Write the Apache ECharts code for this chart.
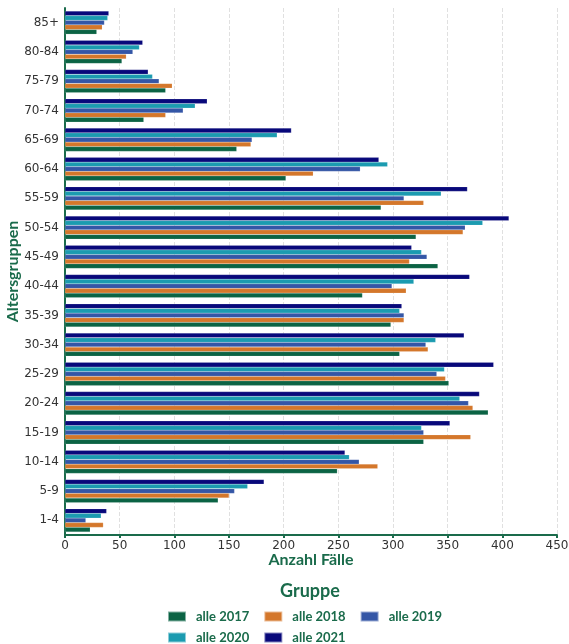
<!DOCTYPE html>
<html>
<head>
<meta charset="utf-8">
<script src="https://cdn.jsdelivr.net/npm/echarts@6/dist/echarts.min.js"></script>
<style>html,body{margin:0;padding:0;background:#fff}#c{width:569px;height:644px}</style>
</head>
<body>
<div id="c"></div>
<script>
const categories = ['1-4','5-9','10-14','15-19','20-24','25-29','30-34','35-39','40-44','45-49','50-54','55-59','60-64','65-69','70-74','75-79','80-84','85+'];
const seriesNames = ['alle 2017','alle 2018','alle 2019','alle 2020','alle 2021'];
const alle2017 = [23,140,249,328,387,351,306,298,272,341,321,289,202,157,72,92,52,29];
const alle2018 = [35,150,286,371,373,348,332,310,312,315,364,328,227,170,92,98,56,34];
const alle2019 = [19,155,269,328,369,340,330,310,299,331,366,310,270,171,108,86,62,36];
const alle2020 = [33,167,260,326,361,347,339,306,319,326,382,344,295,194,119,80,68,39];
const alle2021 = [38,182,256,352,379,392,365,308,370,317,406,368,287,207,130,76,71,40];
const xTicks = [0,50,100,150,200,250,300,350,400,450];
const colors = ['#0b6344','#d4772b','#3456a6','#1b9bb0','#08087a'];

const dataSets = [alle2017, alle2018, alle2019, alle2020, alle2021];
const green = '#1a6b4b';
const chart = echarts.init(document.getElementById('c'));
const legendText = {fontFamily: 'Lato', fontWeight: 'bold', fontSize: 13, color: green, padding: [0, 0, 0, 5]};
// series listed top-to-bottom within a group (2021 on top, 2017 at bottom)
const order = [4, 3, 2, 1, 0];
chart.setOption({
  animation: false,
  title: {
    text: 'Gruppe', left: 310, top: 582, textAlign: 'center', padding: 0,
    textStyle: {fontFamily: 'Lato', fontWeight: 'bold', fontSize: 18, color: green}
  },
  legend: [
    {data: seriesNames.slice(0,3), left: 167, top: 610, padding: 0, itemWidth: 18, itemHeight: 10, itemGap: 14,
     icon: 'rect', textStyle: legendText},
    {data: seriesNames.slice(3), left: 167, top: 631, padding: 0, itemWidth: 18, itemHeight: 10, itemGap: 14,
     icon: 'rect', textStyle: legendText}
  ],
  grid: {left: 65, right: 12, top: 8, bottom: 109, containLabel: false, outerBoundsMode: 'none'},
  xAxis: {
    type: 'value', min: 0, max: 450, interval: 50,
    name: 'Anzahl Fälle', nameLocation: 'middle', nameGap: 17, nameMoveOverlap: false,
    nameTextStyle: {fontFamily: 'Lato', fontWeight: 'bold', fontSize: 16, color: green},
    axisLine: {show: true, lineStyle: {color: green, width: 2}},
    axisTick: {show: true, length: 3, lineStyle: {color: green, width: 2}},
    axisLabel: {fontFamily: 'DejaVu Sans', fontSize: 12, color: '#333', margin: 5,
      formatter: v => xTicks.includes(v) ? String(v) : ''},
    splitLine: {show: true, lineStyle: {color: '#e0e0e0', type: 'dashed', width: 1}}
  },
  yAxis: {
    type: 'category', data: categories,
    name: 'Altersgruppen', nameLocation: 'middle', nameGap: 44, nameRotate: 90, nameMoveOverlap: false,
    nameTextStyle: {fontFamily: 'Lato', fontWeight: 'bold', fontSize: 16, color: green},
    axisLine: {show: true, lineStyle: {color: green, width: 2}},
    axisTick: {show: false},
    axisLabel: {fontFamily: 'DejaVu Sans', fontSize: 12, color: '#333', margin: 6},
    splitLine: {show: false}
  },
  series: order.map(i => ({
    name: seriesNames[i], type: 'bar', data: dataSets[i],
    color: colors[i],
    barGap: '0%', barCategoryGap: '21%',
    itemStyle: {color: colors[i], borderColor: 'rgba(255,255,255,0.5)', borderWidth: 0.3}
  }))
});
</script>
</body>
</html>
